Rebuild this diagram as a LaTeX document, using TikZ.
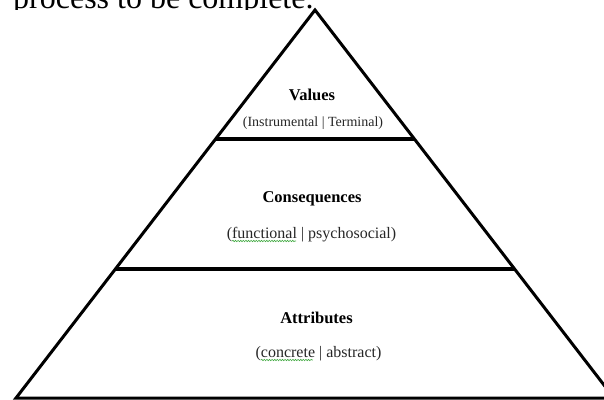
\documentclass[tikz,border=0pt]{standalone}
\usepackage{fontspec}
\setmainfont{Liberation Serif}
\usetikzlibrary{calc,decorations.pathmorphing}
\begin{document}
\begin{tikzpicture}[x=1pt,y=-1pt,
  side/.style={line width=3pt, line join=miter},
  tier/.style={line width=4.2pt},
  head/.style={font=\fontsize{16.5}{18}\selectfont\bfseries, anchor=base, inner sep=0pt},
  sub/.style={font=\fontsize{16}{18}\selectfont, anchor=base, inner sep=0pt, text=black!85},
  squiggle/.style={draw=green!55!black!75, line width=0.6pt, decorate,
    decoration={snake, amplitude=0.7pt, segment length=2.6pt}}
]
\useasboundingbox (0,0) rectangle (604,399);

% last line of the preceding paragraph, cut by the drawing canvas
\begin{scope}
  \clip (0,0) rectangle (604,9.5);
  \node[anchor=base west, inner sep=0pt, font=\fontsize{32}{36}\selectfont] (lead) at (13,8.5) {process to be complete.};
\end{scope}

\begin{scope}
  \clip (0,0) rectangle (604,399);
  \coordinate (apex) at (315,10);
  \coordinate (bl) at (16,398);
  \coordinate (br) at (614,398);
  \draw[side] (bl) -- (apex) -- (br) -- cycle;

  % tier dividers
  \coordinate (t1l) at ($(apex)!1/3!(bl)$);
  \coordinate (t1r) at ($(apex)!1/3!(br)$);
  \coordinate (t2l) at ($(apex)!2/3!(bl)$);
  \coordinate (t2r) at ($(apex)!2/3!(br)$);
  \draw[tier] (t1l) -- (t1r);
  \draw[tier] (t2l) -- (t2r);
\end{scope}

% tier labels
\node[head] (val) at (312,100) {Values};
\node[sub, font=\fontsize{14}{16}\selectfont] (valsub) at (313,126) {(Instrumental | Terminal)};
\node[head] (con) at (312,202) {Consequences};
\node[sub] (consub) at (311.5,238) {(functional | psychosocial)};
\node[head] (att) at (316.5,323) {Attributes};
\node[sub] (attsub) at (318.5,357) {(concrete | abstract)};

% spelling marks
\draw[squiggle] ($(consub.base west)+(5.5,3)$) -- ++(64,0);
\draw[squiggle] ($(attsub.base west)+(5.5,3)$) -- ++(52,0);
\end{tikzpicture}
\end{document}
